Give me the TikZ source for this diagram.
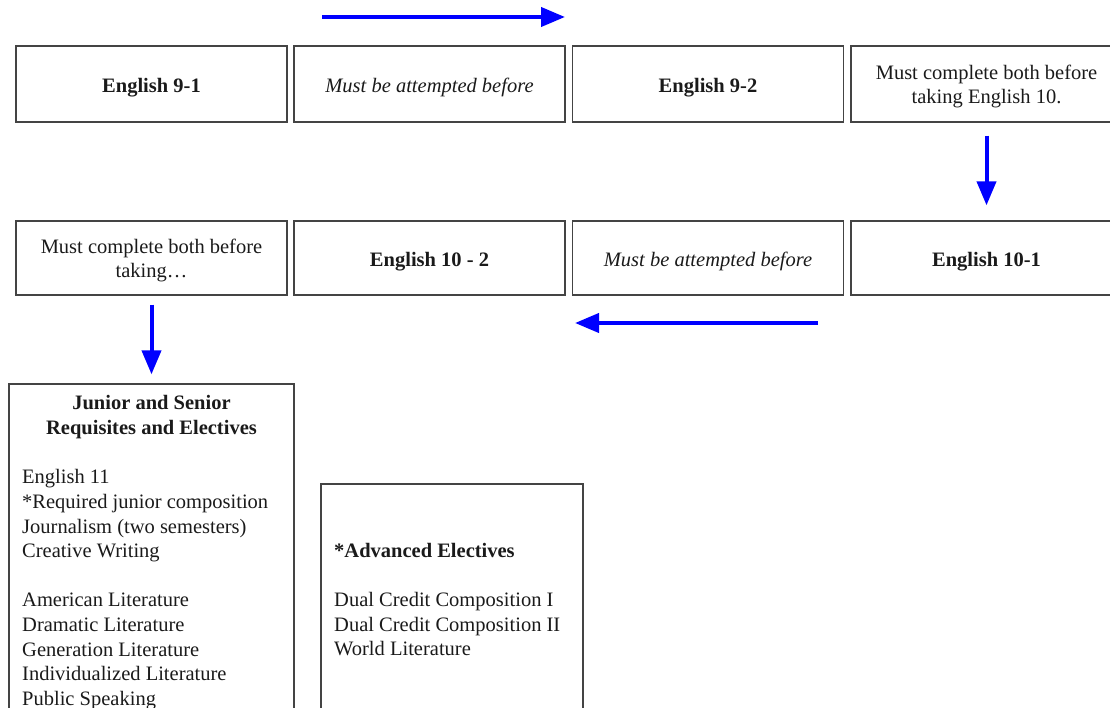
\documentclass[tikz,border=0pt]{standalone}
\usepackage{fontspec}
\setmainfont{Liberation Serif}
\usepackage{tikz}
\usetikzlibrary{positioning,arrows.meta}
\definecolor{BoxLine}{HTML}{444444}
\definecolor{BoxText}{HTML}{1A1A1A}
\definecolor{FlowBlue}{HTML}{0000FF}

\begin{document}
\begin{tikzpicture}[x=1pt,y=-1pt,
  txt/.style={text=BoxText, font=\fontsize{20.5}{24.6}\selectfont},
  cell/.style={txt, draw=BoxLine, line width=1.3pt, minimum width=271pt,
     inner sep=0pt, align=center, text height=20pt, text depth=3.5pt},
  twoline/.style={text height=43pt},
  listbox/.style={draw=BoxLine, line width=1.3pt, inner sep=0pt},
  flow/.style={draw=FlowBlue, line width=4pt, -{Triangle[length=24pt,width=19pt]}}]
  \useasboundingbox (0,0) rectangle (1110,708);
  \clip (0,0) rectangle (1110,708);
  % first row: English 9
  \node[cell, minimum height=76pt] (eng91)    at (151.5,84) {\textbf{English 9-1}};
  \node[cell, minimum height=76pt] (attempt1) at (429.5,84) {\itshape Must be attempted before};
  \node[cell, minimum height=76pt] (eng92)    at (708,84)   {\textbf{English 9-2}};
  \node[cell, twoline, minimum height=76pt] (both1) at (986.5,84) {Must complete both before\\taking English 10.};
  % second row: English 10 (read right to left)
  \node[cell, twoline, minimum height=74pt] (both2) at (151.5,258) {Must complete both before\\taking\ldots};
  \node[cell, minimum height=74pt] (eng102)   at (429.5,258) {\textbf{English 10 - 2}};
  \node[cell, minimum height=74pt] (attempt2) at (708,258)   {\itshape Must be attempted before};
  \node[cell, minimum height=74pt] (eng101)   at (986.5,258) {\textbf{English 10-1}};
  % electives
  \node[listbox, minimum width=285pt, minimum height=376pt] (junior) at (151.5,572) {};
  \node[txt, align=center, anchor=north, inner sep=0pt] (juniorhead) at (151.5,395)
     {\textbf{Junior and Senior}\\\textbf{Requisites and Electives}};
  \node[txt, align=left, anchor=north west, inner sep=0pt] (juniorlist) at (22,469.5)
     {English 11\\*Required junior composition\\Journalism (two semesters)\\Creative Writing\\[24.6pt]
      American Literature\\Dramatic Literature\\Generation Literature\\Individualized Literature\\Public Speaking};
  \node[listbox, minimum width=262pt, minimum height=276pt] (advanced) at (452,622) {};
  \node[txt, align=left, anchor=north west, inner sep=0pt] (advancedlist) at (334,543)
     {\textbf{*Advanced Electives}\\[24.6pt]Dual Credit Composition I\\Dual Credit Composition II\\World Literature};
  % arrows
  \coordinate (top1) at (322,17);
  \coordinate (top2) at (565,17);
  \coordinate (low1) at (818,323);
  \coordinate (low2) at (575,323);
  \draw[flow] (top1) -- (top2);
  \draw[flow, shorten <=13pt, shorten >=15pt] (both1) -- (eng101);
  \draw[flow] (low1) -- (low2);
  \draw[flow, shorten <=9pt, shorten >=9pt] (both2) -- (junior.north);
\end{tikzpicture}
\end{document}
